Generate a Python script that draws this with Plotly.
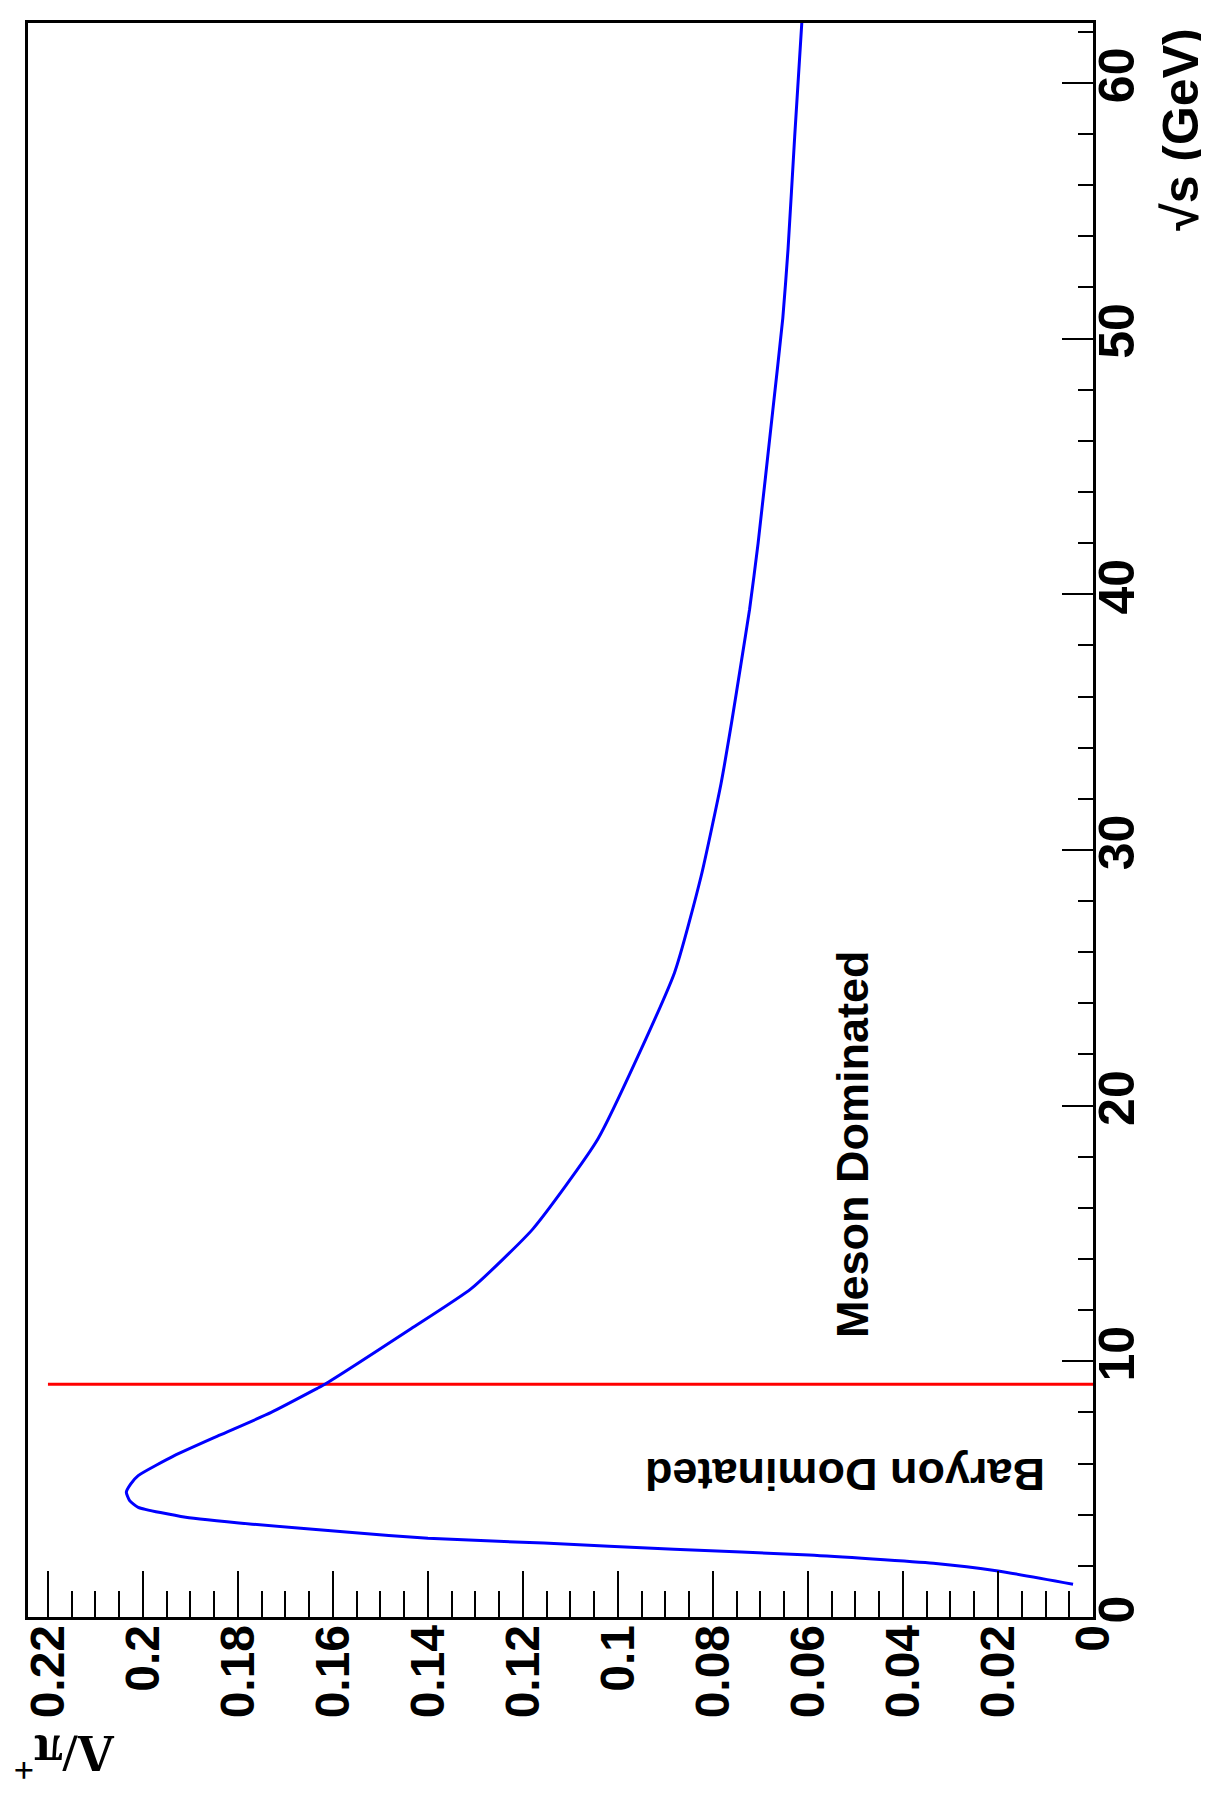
import plotly.graph_objects as go

# Curve: sqrt(s) [GeV] vs Lambda/pi+ ratio
sqrt_s = [1.28, 1.8, 2.1, 2.42, 2.65, 2.89, 3.08, 3.31, 3.63, 3.9, 4.29, 4.55,
          4.88, 5.2, 5.53, 6.31, 7.1, 8.0, 8.93, 9.09, 11.28, 12.84, 15.18,
          18.7, 25.2, 28.97, 32.6, 34.96, 37.4, 39.4, 42.0, 47.2, 50.8, 53.5,
          57.9, 62.35]
ratio = [0.0042, 0.020, 0.0336, 0.0598, 0.0882, 0.1156, 0.140, 0.1566, 0.177,
         0.191, 0.201, 0.2028, 0.2035, 0.2026, 0.201, 0.1934, 0.184, 0.173,
         0.1634, 0.1618, 0.1435, 0.1309, 0.1179, 0.1042, 0.0881, 0.0825,
         0.0783, 0.0761, 0.0740, 0.0723, 0.0705, 0.0674, 0.0653, 0.0642,
         0.0628, 0.0613]

# Boundary line
boundary_sqrt_s = [9.1, 9.1]
boundary_ratio = [0.0, 0.22]

ratio_ticks = [0.22, 0.2, 0.18, 0.16, 0.14, 0.12, 0.1, 0.08, 0.06, 0.04, 0.02, 0]
ratio_ticktext = ["0.22", "0.2", "0.18", "0.16", "0.14", "0.12", "0.1", "0.08",
                  "0.06", "0.04", "0.02", "0"]
sqrt_s_ticks = [0, 10, 20, 30, 40, 50, 60]
sqrt_s_ticktext = ["0", "10", "20", "30", "40", "50", "60"]

FONT = "Liberation Sans, Arial, Helvetica, sans-serif"

fig = go.Figure()
fig.add_trace(go.Scatter(x=boundary_ratio, y=boundary_sqrt_s, mode="lines",
                         line=dict(color="#ff0000", width=3), showlegend=False))
fig.add_trace(go.Scatter(x=ratio, y=sqrt_s, mode="lines",
                         line=dict(color="#0000ff", width=3, shape="spline",
                                   smoothing=0.5),
                         showlegend=False))

fig.update_layout(
    width=1209, height=1806, autosize=False,
    margin=dict(l=20, r=124, t=12, b=197, pad=0),
    paper_bgcolor="white", plot_bgcolor="white",
    showlegend=False,
    xaxis=dict(
        range=[0.2242, 0], showgrid=False, zeroline=False,
        showline=True, linecolor="black", linewidth=2.5, mirror=True,
        ticks="inside", ticklen=46, tickwidth=1.5, tickcolor="black",
        tickvals=ratio_ticks, ticktext=ratio_ticktext, tickangle=-90,
        ticklabelstandoff=-14,
        tickfont=dict(family=FONT, size=48, color="black", weight="bold"),
        minor=dict(dtick=0.005, tick0=0, ticks="inside", ticklen=26,
                   tickwidth=1.5, tickcolor="black", showgrid=False),
    ),
    yaxis=dict(
        range=[0, 62.34], side="right", showgrid=False, zeroline=False,
        showline=True, linecolor="black", linewidth=2.5, mirror=True,
        ticks="inside", ticklen=31, tickwidth=2, tickcolor="black",
        tickvals=sqrt_s_ticks, ticktext=sqrt_s_ticktext, tickangle=-90,
        ticklabelstandoff=-22,
        tickfont=dict(family=FONT, size=50, color="black", weight="bold"),
        minor=dict(dtick=2, tick0=0, ticks="inside", ticklen=15,
                   tickwidth=2, tickcolor="black", showgrid=False),
    ),
    annotations=[
        dict(text="√s (GeV)", xref="paper", yref="paper", x=1.0826, y=0.9336,
             showarrow=False, textangle=-90, xanchor="center", yanchor="middle",
             font=dict(family=FONT, size=50, color="black", weight="bold")),
        dict(text="Λ/π<sup>+</sup>", xref="paper", yref="paper", x=0.034, y=-0.088,
             showarrow=False, textangle=180, xanchor="center", yanchor="middle",
             font=dict(family="Liberation Serif, Times New Roman, serif", size=52,
                       color="black", weight="bold")),
        dict(text="Baryon Dominated", xref="x", yref="y", x=0.0522, y=5.58,
             showarrow=False, textangle=180, xanchor="center", yanchor="middle",
             font=dict(family=FONT, size=45, color="black", weight="bold")),
        dict(text="Meson Dominated", xref="x", yref="y", x=0.0505, y=18.5,
             showarrow=False, textangle=-90, xanchor="center", yanchor="middle",
             font=dict(family=FONT, size=45, color="black", weight="bold")),
    ],
)

fig.write_html("out.html")
